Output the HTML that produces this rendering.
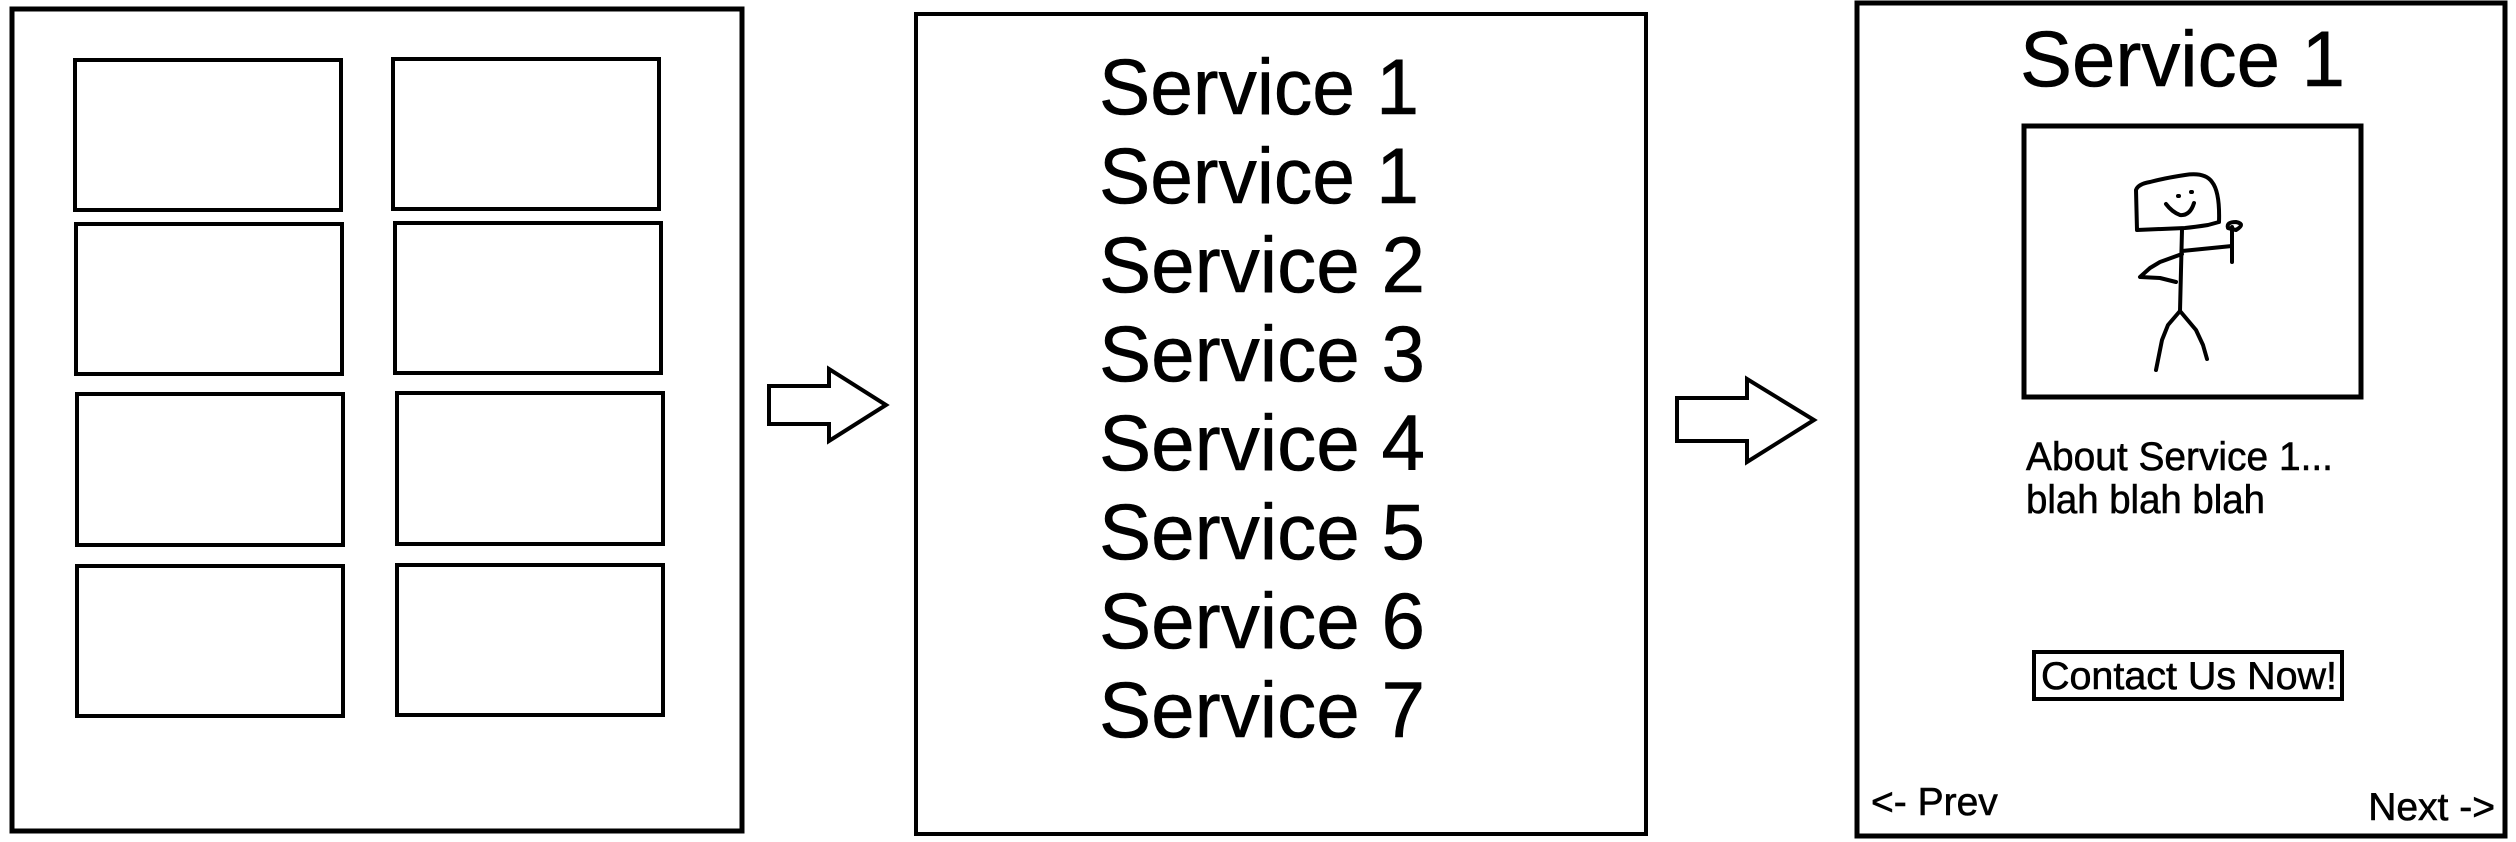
<!DOCTYPE html>
<html><head><meta charset="utf-8"><style>
html,body{margin:0;padding:0;background:#fff;}
svg{display:block;}
text{font-family:"Liberation Sans",Arial,sans-serif;fill:#000;stroke:#000;stroke-width:0.6;}
</style></head><body>
<svg width="2516" height="842" viewBox="0 0 2516 842" xmlns="http://www.w3.org/2000/svg">
<g fill="none" stroke="#000">
<rect x="12" y="9" width="730" height="822" stroke-width="5"/>
<g stroke-width="4">
<rect x="75" y="60" width="266" height="150"/>
<rect x="393" y="59" width="266" height="150"/>
<rect x="76" y="224" width="266" height="150"/>
<rect x="395" y="223" width="266" height="150"/>
<rect x="77" y="394" width="266" height="151"/>
<rect x="397" y="393" width="266" height="151"/>
<rect x="77" y="566" width="266" height="150"/>
<rect x="397" y="565" width="266" height="150"/>
</g>
<polygon points="769,386 829,386 829,369 886,405 829,441 829,424 769,424" stroke-width="4" stroke-linejoin="miter"/>
<rect x="916" y="14" width="730" height="820" stroke-width="4"/>
<polygon points="1677,398 1747,398 1747,379 1814,420 1747,462 1747,441 1677,441" stroke-width="4"/>
<rect x="1857" y="3" width="648" height="833" stroke-width="5"/>
<rect x="2024" y="126" width="337" height="271" stroke-width="5"/>
<rect x="2034" y="652" width="308" height="47" stroke-width="4"/>
<g stroke-width="4" stroke-linecap="round" stroke-linejoin="round">
<path d="M2137,230 L2136,190 Q2138,184 2150,182 Q2165,178 2185,175 Q2205,172 2212,182 Q2220,192 2219,222 L2208,225 Q2195,227 2185,228 Z"/>
<path d="M2178,196 l1,0 M2191,192 l1,0"/>
<path d="M2166,204 Q2172,212 2180,215 Q2190,216 2194,203"/>
<path d="M2182,230 L2181,270 L2180,311"/>
<path d="M2182,251 L2232,246"/>
<path d="M2232,262 L2232,227"/>
<path d="M2228,228 Q2226,222 2236,222 Q2246,224 2236,230 Z"/>
<path d="M2182,254 L2160,262 L2150,268 L2140,277 L2160,278 L2176,282"/>
<path d="M2180,311 L2168,325 L2162,340 L2156,370"/>
<path d="M2180,311 L2196,330 L2203,345 L2207,359"/>
</g>
</g>
<g font-size="79">
<text x="1099" y="114" textLength="320" lengthAdjust="spacingAndGlyphs">Service 1</text>
<text x="1099" y="203" textLength="320" lengthAdjust="spacingAndGlyphs">Service 1</text>
<text x="1099" y="292" textLength="326" lengthAdjust="spacingAndGlyphs">Service 2</text>
<text x="1099" y="381" textLength="326" lengthAdjust="spacingAndGlyphs">Service 3</text>
<text x="1099" y="470" textLength="326" lengthAdjust="spacingAndGlyphs">Service 4</text>
<text x="1099" y="559" textLength="326" lengthAdjust="spacingAndGlyphs">Service 5</text>
<text x="1099" y="648" textLength="326" lengthAdjust="spacingAndGlyphs">Service 6</text>
<text x="1099" y="737" textLength="326" lengthAdjust="spacingAndGlyphs">Service 7</text>
<text x="2020" y="86" textLength="325" lengthAdjust="spacingAndGlyphs">Service 1</text>
</g>
<text x="2026" y="470" font-size="40" textLength="307" lengthAdjust="spacingAndGlyphs">About Service 1...</text>
<text x="2026" y="513" font-size="40" textLength="239" lengthAdjust="spacingAndGlyphs">blah blah blah</text>
<text x="2041" y="689" font-size="39" textLength="296" lengthAdjust="spacingAndGlyphs">Contact Us Now!</text>
<text x="1871" y="815" font-size="39">&lt;- Prev</text>
<text x="2495" y="820" font-size="39" text-anchor="end">Next -&gt;</text>
</svg>
</body></html>
